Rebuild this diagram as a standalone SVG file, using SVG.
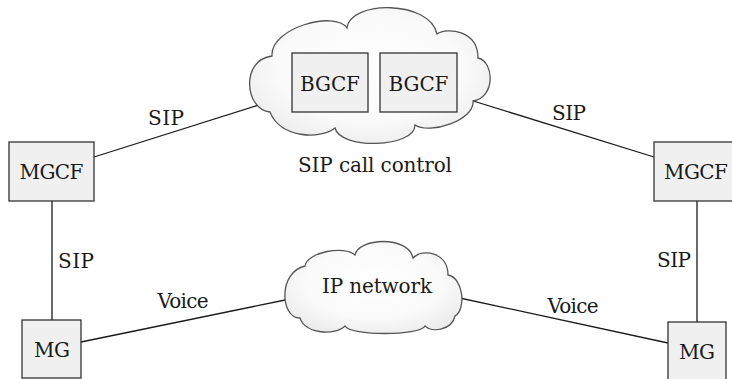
<svg xmlns="http://www.w3.org/2000/svg" width="732" height="379" viewBox="0 0 732 379">
<defs>
<radialGradient id="cg" cx="50%" cy="45%" r="60%">
<stop offset="0" stop-color="#ffffff"/>
<stop offset="0.65" stop-color="#fafafa"/>
<stop offset="1" stop-color="#ebebeb"/>
</radialGradient>
</defs>
<style>
text{font-family:"DejaVu Serif","Liberation Serif",serif;font-size:20px;fill:#1a1a1a;text-anchor:middle}
.box{fill:#f0f0f0;stroke:#333;stroke-width:1.3}
.cloud{fill:url(#cg);stroke:#555;stroke-width:1.3}
.conn line{stroke:#1a1a1a;stroke-width:1.3}
</style>
<rect width="732" height="379" fill="#fff"/>
<g id="connectors" class="conn">
<line x1="94" y1="157" x2="262" y2="104"/>
<line x1="470" y1="100" x2="654" y2="157"/>
<line x1="52" y1="201" x2="52" y2="320"/>
<line x1="697" y1="201" x2="697" y2="322"/>
<line x1="81" y1="342" x2="290" y2="299"/>
<line x1="455" y1="297" x2="668" y2="343"/>
</g>
<g id="labels">
<text x="166" y="125" textLength="36">SIP</text>
<text x="569" y="120" textLength="34">SIP</text>
<text x="76" y="268" textLength="36">SIP</text>
<text x="674" y="267" textLength="34">SIP</text>
<text x="183" y="308" textLength="51">Voice</text>
<text x="573" y="313" textLength="51">Voice</text>
</g>
<g id="sip-cloud">
<path class="cloud" d="M272,56 C270,28 335,10 347,28 C350,0 430,0 437,34 C447,27 478,30 478,58 C495,62 495,98 473,101 C475,120 430,135 415,125 C415,148 340,150 335,128 C320,140 280,138 270,112 C245,110 240,60 272,56 Z"/>
<text x="375" y="172" textLength="154">SIP call control</text>
</g>
<g id="bgcf1">
<rect class="box" x="292" y="53" width="76" height="59"/>
<text x="330" y="91" textLength="60">BGCF</text>
</g>
<g id="bgcf2">
<rect class="box" x="380" y="53" width="77" height="59"/>
<text x="418.5" y="91" textLength="60">BGCF</text>
</g>
<g id="ip-cloud">
<path class="cloud" d="M305,266 C307,252 345,245 355,255 C358,238 408,235 413,258 C422,248 448,252 448,275 C464,278 466,310 455,316 C452,330 432,333 425,326 C420,336 350,336 345,326 C335,336 305,334 300,318 C280,318 278,272 305,266 Z"/>
<text x="377" y="293" textLength="110">IP network</text>
</g>
<g id="mgcf-left">
<rect class="box" x="9" y="142" width="85" height="59"/>
<text x="51.5" y="179" textLength="64">MGCF</text>
</g>
<g id="mgcf-right">
<rect class="box" x="654" y="142" width="84" height="59"/>
<text x="696" y="179" textLength="64">MGCF</text>
</g>
<g id="mg-left">
<rect class="box" x="22" y="320" width="59" height="58"/>
<text x="52" y="357" textLength="36">MG</text>
</g>
<g id="mg-right">
<rect class="box" x="668" y="322" width="58" height="58"/>
<text x="697" y="359" textLength="36">MG</text>
</g>
</svg>
